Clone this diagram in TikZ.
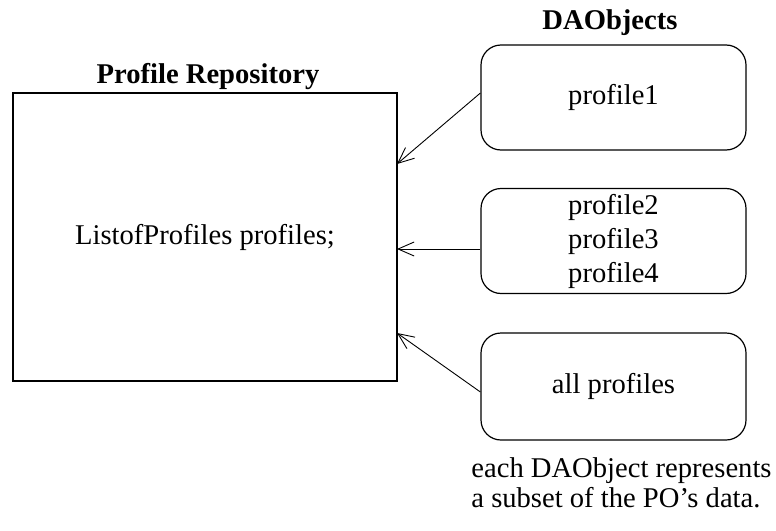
\documentclass[tikz,border=0pt]{standalone}
\usepackage{fontspec}
\setmainfont{Liberation Serif}
\usetikzlibrary{arrows.meta,positioning}

\begin{document}
\begin{tikzpicture}[x=0.5pt,y=0.5pt,yscale=-1,xscale=1,
  every node/.style={font=\fontsize{14.3}{17}\selectfont},
  objbox/.style={draw,line width=0.6pt,rounded corners=10pt,minimum width=132.5pt,minimum height=52.5pt,align=center,inner sep=0pt},
  link/.style={-{Straight Barb[length=8pt,width=7pt]},line width=0.45pt}]
\useasboundingbox (0,0) rectangle (776,530);

%Shape: Rectangle [id:repo] 
\node [draw,line width=0.6pt,minimum width=192pt,minimum height=144pt] (repo) at (205,237) {ListofProfiles profiles;};
%Shape: Rounded Rect [id:box1] 
\node [objbox] (box1) at (613.5,97.5) {profile1};
%Shape: Rounded Rect [id:box2] 
\node [objbox] (box2) at (613.5,241) {profile2\\profile3\\profile4};
%Shape: Rounded Rect [id:box3] 
\node [objbox,minimum height=53.5pt] (box3) at (613.5,386.5) {all profiles};

% Arrow ends on the repository
\coordinate (in1) at (397,164);
\coordinate (in2) at (397,249);
\coordinate (in3) at (397,333);

%Straight Lines [id:arr1] 
\draw [link] ([yshift=-2.25pt]box1.west) -- (in1);
%Straight Lines [id:arr2] 
\draw [link] ([yshift=4pt]box2.west) -- (in2);
%Straight Lines [id:arr3] 
\draw [link] ([yshift=2.75pt]box3.west) -- (in3);

% Text Node
\node [anchor=base,font=\fontsize{14.3}{17}\selectfont\bfseries] (repotitle) at (208,83) {Profile Repository};
% Text Node
\node [anchor=base,font=\fontsize{14.3}{17}\selectfont\bfseries] (daotitle) at (610,29) {DAObjects};
% Text Node
\node [anchor=base west,inner sep=0pt,align=left,font=\fontsize{14.3}{15}\selectfont] (note) at (471,507) {each DAObject represents\\a subset of the PO's data.};

\end{tikzpicture}
\end{document}
